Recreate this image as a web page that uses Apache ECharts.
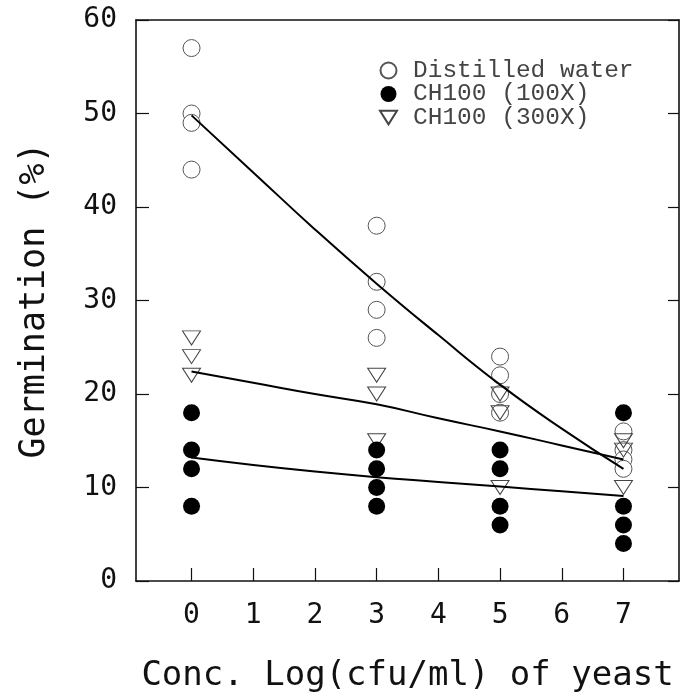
<!DOCTYPE html>
<html>
<head>
<meta charset="utf-8">
<script src="https://cdn.jsdelivr.net/npm/echarts@6/dist/echarts.min.js"></script>
<style>
html,body{margin:0;padding:0;background:#fff;}
#chart{width:692px;height:695px;}
</style>
</head>
<body>
<div id="chart"></div>
<script>
// ---- data ----
const xTickValues = [0, 1, 2, 3, 4, 5, 6, 7];

const waterX = [0, 0, 0, 0, 3, 3, 3, 3, 5, 5, 5, 5, 7, 7, 7, 7];
const waterY = [57, 50, 49, 44, 38, 32, 29, 26, 24, 22, 20, 18, 16, 14, 13, 12];

const ch100X = [0, 0, 0, 0, 3, 3, 3, 3, 5, 5, 5, 5, 7, 7, 7, 7];
const ch100Y = [18, 14, 12, 8, 14, 12, 10, 8, 14, 12, 8, 6, 18, 8, 6, 4];

const ch300X = [0, 0, 0, 3, 3, 3, 5, 5, 5, 7, 7, 7];
const ch300Y = [26, 24, 22, 22, 20, 15, 20, 18, 10, 15, 14, 10];

const fitX = [0, 1, 2, 3, 4, 5, 6, 7];
const fitWater = [49.8, 43.7, 37.6, 31.8, 26.3, 21.0, 16.3, 12.0];
const fit300 = [22.4, 21.2, 20.0, 18.9, 17.4, 16.0, 14.5, 13.0];
const fit100 = [13.2, 12.4, 11.7, 11.1, 10.6, 10.1, 9.6, 9.1];

const seriesNames = ['Distilled water', 'CH100 (100X)', 'CH100 (300X)'];

function pairs(xs, ys) { return xs.map((x, i) => [x, ys[i]]); }

const triPath = 'path://M0,0 L20,0 L10,16 Z';
const monoFont = '"DejaVu Sans Mono", monospace';

const chart = echarts.init(document.getElementById('chart'), null, { renderer: 'canvas' });
chart.setOption({
  backgroundColor: '#ffffff',
  animation: false,
  grid: { left: 136, right: 13, top: 20, bottom: 114, containLabel: false, outerBoundsMode: 'none' },
  legend: {
    data: seriesNames,
    orient: 'vertical',
    left: 374,
    top: 53,
    itemWidth: 17,
    itemHeight: 16,
    itemGap: -1.5,
    textStyle: { fontFamily: '"Liberation Mono", monospace', fontSize: 24.5, color: '#444', padding: [0, 0, 0, 11] }
  },
  xAxis: [{
    type: 'value', min: -0.9, max: 7.9,
    name: 'Conc. Log(cfu/ml) of yeast',
    nameLocation: 'middle', nameGap: 78,
    nameTextStyle: { fontFamily: monoFont, fontSize: 34, color: '#111' },
    axisLine: { show: true, onZero: false, lineStyle: { color: '#111', width: 1.6 } },
    axisTick: { show: true, inside: true, length: 13, customValues: xTickValues, lineStyle: { color: '#111', width: 1.2 } },
    axisLabel: { customValues: xTickValues, margin: 21, fontFamily: monoFont, fontSize: 28, color: '#111' },
    splitLine: { show: false }
  }, {
    type: 'value', min: -0.9, max: 7.9, position: 'top',
    axisLine: { show: true, onZero: false, lineStyle: { color: '#111', width: 1.6 } },
    axisTick: { show: false }, axisLabel: { show: false }, splitLine: { show: false }
  }],
  yAxis: [{
    type: 'value', min: 0, max: 60, interval: 10,
    name: 'Germination (%)',
    nameLocation: 'middle', nameGap: 84,
    nameTextStyle: { fontFamily: monoFont, fontSize: 35, color: '#111' },
    axisLine: { show: true, onZero: false, lineStyle: { color: '#111', width: 1.6 } },
    axisTick: { show: true, inside: true, length: 13, lineStyle: { color: '#111', width: 1.2 } },
    axisLabel: { margin: 19, fontFamily: monoFont, fontSize: 28, color: '#111' },
    splitLine: { show: false }
  }, {
    type: 'value', min: 0, max: 60, interval: 10, position: 'right',
    axisLine: { show: true, onZero: false, lineStyle: { color: '#111', width: 1.6 } },
    axisTick: { show: true, inside: true, length: 11, lineStyle: { color: '#111', width: 1.2 } },
    axisLabel: { show: false }, splitLine: { show: false }
  }],
  series: [{
    name: seriesNames[0], type: 'scatter',
    data: pairs(waterX, waterY),
    symbol: 'circle', symbolSize: 17,
    itemStyle: { color: '#ffffff', borderColor: '#555', borderWidth: 1, opacity: 1 },
    z: 2
  }, {
    name: seriesNames[1], type: 'scatter',
    data: pairs(ch100X, ch100Y),
    symbol: 'circle', symbolSize: 17,
    itemStyle: { color: '#000000', borderColor: '#000', borderWidth: 0, opacity: 1 },
    z: 3
  }, {
    name: seriesNames[2], type: 'scatter',
    data: pairs(ch300X, ch300Y),
    symbol: triPath, symbolSize: [18, 14],
    itemStyle: { color: 'rgba(255,255,255,0)', borderColor: '#444', borderWidth: 1, opacity: 1 },
    z: 2
  }, {
    name: 'fit water', type: 'line', data: pairs(fitX, fitWater),
    smooth: true, showSymbol: false, symbol: 'none',
    lineStyle: { color: '#000', width: 2 }, z: 5
  }, {
    name: 'fit 300', type: 'line', data: pairs(fitX, fit300),
    smooth: true, showSymbol: false, symbol: 'none',
    lineStyle: { color: '#000', width: 2 }, z: 5
  }, {
    name: 'fit 100', type: 'line', data: pairs(fitX, fit100),
    smooth: true, showSymbol: false, symbol: 'none',
    lineStyle: { color: '#000', width: 2 }, z: 5
  }]
});
</script>
</body>
</html>
